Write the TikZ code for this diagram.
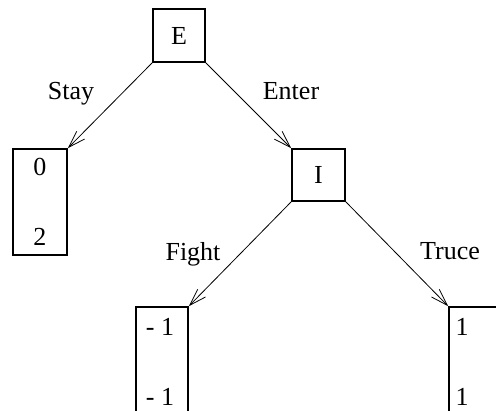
\documentclass[tikz,border=0pt]{standalone}
\usepackage{fontspec}
\setmainfont{Liberation Serif}
\usetikzlibrary{arrows.meta}
\begin{document}
\begin{tikzpicture}[x=1pt,y=-1pt,
  every node/.style={font=\fontsize{26}{30}\selectfont, inner sep=0pt},
  box/.style={draw, line width=1.6pt, minimum width=#1, anchor=center},
  edge/.style={line width=0.8pt, -{Straight Barb[length=17pt,width=11pt,line width=0.8pt]}},
  lbl/.style={anchor=base}]
\useasboundingbox (0,0) rectangle (496,411);
\clip (0,0) rectangle (496,411);
\node[box=52pt, minimum height=53pt] (E) at (179,35.5) {E};
\node[box=54pt, minimum height=106pt] (L) at (40,202) {};
\node at (40,167) (L1) {0};
\node at (40,237) (L2) {2};
\node[box=53pt, minimum height=52pt] (I) at (318.5,175) {I};
\node[box=52pt, minimum height=106pt] (BL) at (162,360) {};
\node at (160,327) (BL1) {- 1};
\node at (160,397) (BL2) {- 1};
\node[box=54pt, minimum height=106pt] (BR) at (476,360) {};
\node at (462,327) (BR1) {1};
\node at (462,397) (BR2) {1};
\draw[edge] (E.south west) -- (L.north east);
\draw[edge] (E.south east) -- (I.north west);
\draw[edge] (I.south west) -- (BL.north east);
\draw[edge] (I.south east) -- (BR.north west);
\node[lbl] (s) at (71,100) {Stay};
\node[lbl] (en) at (291,100) {Enter};
\node[lbl] (f) at (193,261) {Fight};
\node[lbl] (t) at (450,260) {Truce};
\end{tikzpicture}
\end{document}
